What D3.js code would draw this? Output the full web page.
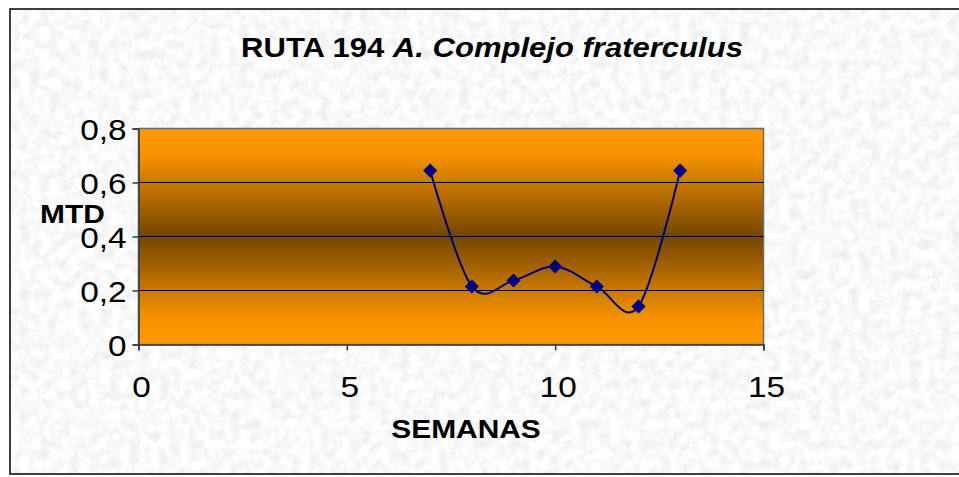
<!DOCTYPE html>
<html>
<head>
<meta charset="utf-8">
<script src="https://cdn.jsdelivr.net/npm/d3@7"></script>
<style>
  body { margin: 0; background: #fff; }
  text { font-family: "Liberation Sans", Arial, sans-serif; fill: #000; }
</style>
</head>
<body>
<div id="chart"></div>
<script>
// chart data
var semanas = [7, 8, 9, 10, 11, 12, 13];
var mtd = [0.644, 0.215, 0.237, 0.289, 0.215, 0.141, 0.644];
var xTicks = [0, 5, 10, 15];
var yTicks = [0, 0.2, 0.4, 0.6, 0.8];

var svgWidth = 959;
var svgHeight = 477;
var stretch = 1.15; // text in the picture is a bit wider than normal

var margin = { top: 128.5, left: 138.5, right: 959 - 763.5, bottom: 477 - 344.5 };
var width = svgWidth - margin.left - margin.right;
var height = svgHeight - margin.top - margin.bottom;

var svg = d3.select("#chart")
    .append("svg")
    .attr("width", svgWidth)
    .attr("height", svgHeight);

var defs = svg.append("defs");

// granite-like background
var filter = defs.append("filter")
    .attr("id", "granite")
    .attr("x", 0).attr("y", 0).attr("width", 1).attr("height", 1);
filter.append("feTurbulence")
    .attr("type", "fractalNoise")
    .attr("baseFrequency", 0.1)
    .attr("numOctaves", 3)
    .attr("seed", 4);
filter.append("feColorMatrix")
    .attr("type", "matrix")
    .attr("values", "0.3 0 0 0 0.8  0.3 0 0 0 0.8  0.3 0 0 0 0.8  0 0 0 0 1");

// orange / brown band gradient of the plot area
var grad = defs.append("linearGradient")
    .attr("id", "band")
    .attr("x1", 0).attr("y1", 0).attr("x2", 0).attr("y2", 1);
[[0, "#ff9900"], [0.12, "#f79300"], [0.5, "#744600"], [0.88, "#f79300"], [1, "#ff9900"]]
    .forEach(function (s) {
        grad.append("stop").attr("offset", s[0]).attr("stop-color", s[1]);
    });

svg.append("rect")
    .attr("x", 10).attr("y", 9)
    .attr("width", 960).attr("height", 465)
    .attr("filter", "url(#granite)");

svg.append("rect")
    .attr("x", 10).attr("y", 9)
    .attr("width", 960).attr("height", 465)
    .attr("fill", "none")
    .attr("stroke", "#000")
    .attr("stroke-width", 1.5);

var chartGroup = svg.append("g")
    .attr("transform", `translate(${margin.left}, ${margin.top})`);

var xScale = d3.scaleLinear().domain([0, 15]).range([0, width]);
var yScale = d3.scaleLinear().domain([0, 0.8]).range([height, 0]);

chartGroup.append("rect")
    .attr("width", width)
    .attr("height", height)
    .attr("fill", "url(#band)")
    .attr("stroke", "#6a6a6a")
    .attr("stroke-width", 1.5);

// gridlines
chartGroup.selectAll("line.grid")
    .data(yTicks.filter(d => d > 0 && d < 0.8))
    .enter()
    .append("line")
    .classed("grid", true)
    .attr("x1", 0).attr("x2", width)
    .attr("y1", d => yScale(d)).attr("y2", d => yScale(d))
    .attr("stroke", "#000")
    .attr("stroke-width", 1);

// axes
var leftAxis = d3.axisLeft(yScale).tickValues(yTicks).tickSize(6).tickFormat("");
var bottomAxis = d3.axisBottom(xScale).tickValues(xTicks).tickSize(6).tickFormat("");

var yAxis = chartGroup.append("g").call(leftAxis);
var xAxis = chartGroup.append("g")
    .attr("transform", `translate(0, ${height})`)
    .call(bottomAxis);

[xAxis, yAxis].forEach(function (a) {
    a.selectAll("path, line").attr("stroke", "#3a3a3a").attr("stroke-width", 1.5);
});

// tick labels
chartGroup.selectAll("text.ytick")
    .data(yTicks)
    .enter()
    .append("text")
    .classed("ytick", true)
    .attr("transform", d => `translate(-12, ${yScale(d) + 11}) scale(${stretch}, 1)`)
    .attr("text-anchor", "end")
    .style("font-size", "29px")
    .text(d => d === 0 ? "0" : d3.format(".1f")(d).replace(".", ","));

chartGroup.selectAll("text.xtick")
    .data(xTicks)
    .enter()
    .append("text")
    .classed("xtick", true)
    .attr("transform", d => `translate(${xScale(d) + 3}, ${height + 52}) scale(${stretch}, 1)`)
    .attr("text-anchor", "middle")
    .style("font-size", "29px")
    .text(d => d);

// line and markers
var line = d3.line()
    .x((d, i) => xScale(semanas[i]))
    .y(d => yScale(d))
    .curve(d3.curveCardinal.tension(0));

chartGroup.append("path")
    .datum(mtd)
    .attr("d", line)
    .attr("fill", "none")
    .attr("stroke", "#000080")
    .attr("stroke-width", 2);

chartGroup.selectAll("path.marker")
    .data(mtd)
    .enter()
    .append("path")
    .classed("marker", true)
    .attr("d", d3.symbol().type(d3.symbolSquare).size(100))
    .attr("transform", (d, i) => `translate(${xScale(semanas[i])}, ${yScale(d)}) rotate(45)`)
    .attr("fill", "#000080");

// title and axis titles
var title = svg.append("text")
    .attr("transform", `translate(492, 57) scale(${stretch}, 1)`)
    .attr("text-anchor", "middle")
    .style("font-size", "27px")
    .style("font-weight", "bold");
title.append("tspan").text("RUTA 194 ");
title.append("tspan").style("font-style", "italic").text("A. Complejo fraterculus");

svg.append("text")
    .attr("transform", `translate(40, 223) scale(${stretch}, 1)`)
    .style("font-size", "26px")
    .style("font-weight", "bold")
    .text("MTD");

svg.append("text")
    .attr("transform", `translate(466, 438) scale(${stretch}, 1)`)
    .attr("text-anchor", "middle")
    .style("font-size", "26px")
    .style("font-weight", "bold")
    .text("SEMANAS");
</script>
</body>
</html>
